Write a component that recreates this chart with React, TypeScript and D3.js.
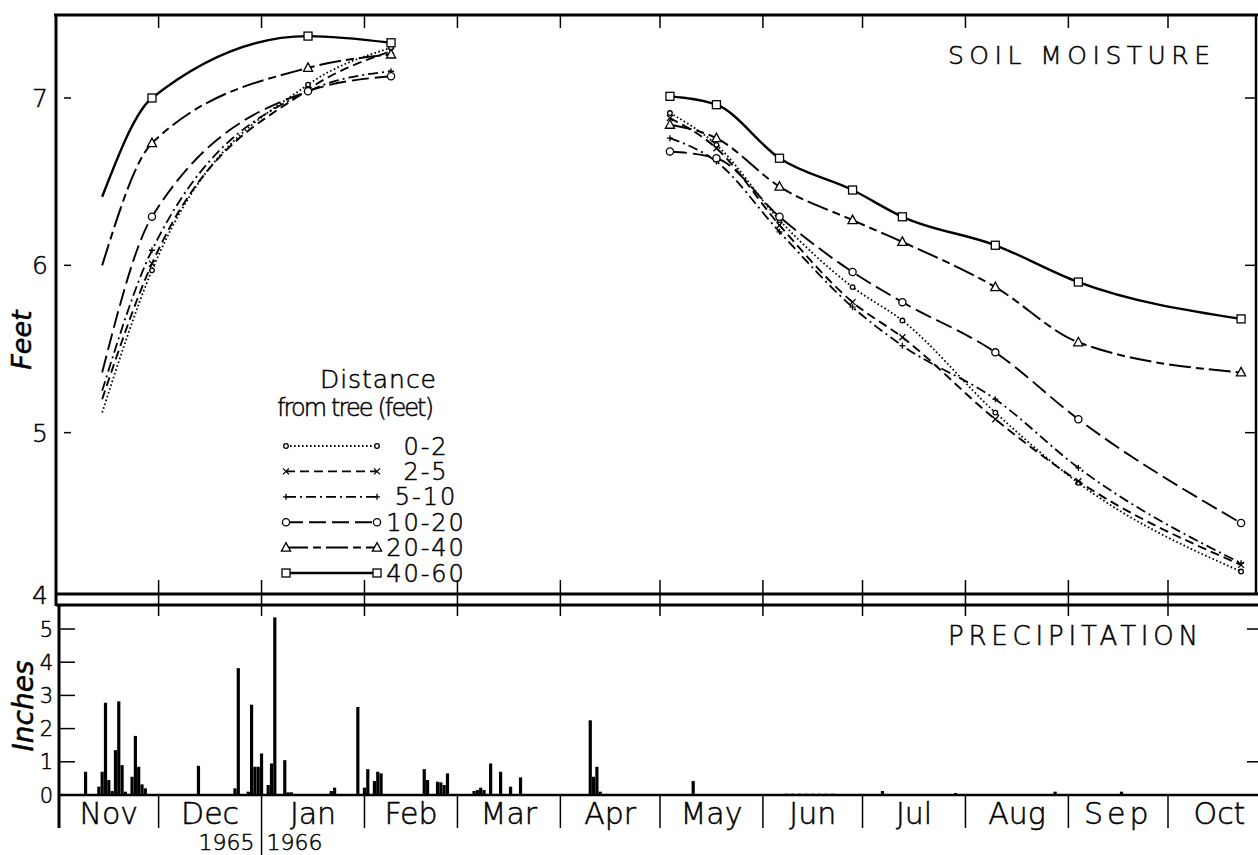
import React, { useRef, useEffect } from 'react'
import * as d3 from 'd3'

// soil moisture sampling dates (winter recharge and summer depletion)
const winterDates = ['1965-11-14', '1965-11-29', '1966-01-15', '1966-02-09']
const summerDates = ['1966-05-04', '1966-05-18', '1966-06-06', '1966-06-28', '1966-07-13', '1966-08-10', '1966-09-04', '1966-10-23']

const distanceLabels = ['0-2', '2-5', '5-10', '10-20', '20-40', '40-60']

// feet of soil moisture, one row per distance class
const winter02 = [5.12, 5.97, 7.08, 7.3]
const winter25 = [5.2, 6.01, 7.05, 7.28]
const winter510 = [5.25, 6.09, 7.04, 7.16]
const winter1020 = [5.36, 6.29, 7.04, 7.13]
const winter2040 = [6.0, 6.73, 7.18, 7.26]
const winter4060 = [6.41, 7.0, 7.37, 7.33]

const summer02 = [6.91, 6.72, 6.27, 5.87, 5.67, 5.12, 4.7, 4.17]
const summer25 = [6.88, 6.7, 6.24, 5.78, 5.57, 5.08, 4.71, 4.21]
const summer510 = [6.76, 6.62, 6.2, 5.75, 5.52, 5.2, 4.79, 4.22]
const summer1020 = [6.68, 6.64, 6.29, 5.96, 5.78, 5.48, 5.08, 4.46]
const summer2040 = [6.84, 6.76, 6.47, 6.27, 6.14, 5.87, 5.54, 5.36]
const summer4060 = [7.01, 6.96, 6.64, 6.45, 6.29, 6.12, 5.9, 5.68]

// daily precipitation (inches)
const precipDates = [
  '1965-11-09', '1965-11-13', '1965-11-14', '1965-11-15', '1965-11-16', '1965-11-17', '1965-11-18', '1965-11-19',
  '1965-11-20', '1965-11-21', '1965-11-23', '1965-11-24', '1965-11-25', '1965-11-26', '1965-11-27', '1965-12-13',
  '1965-12-24', '1965-12-25', '1965-12-28', '1965-12-29', '1965-12-30', '1965-12-31', '1966-01-01', '1966-01-03',
  '1966-01-04', '1966-01-05', '1966-01-08', '1966-01-09', '1966-01-10', '1966-01-22', '1966-01-23', '1966-01-30',
  '1966-02-01', '1966-02-02', '1966-02-04', '1966-02-05', '1966-02-06', '1966-02-19', '1966-02-20', '1966-02-23',
  '1966-02-24', '1966-02-25', '1966-02-26', '1966-03-06', '1966-03-07', '1966-03-08', '1966-03-09', '1966-03-11',
  '1966-03-14', '1966-03-17', '1966-03-20', '1966-04-10', '1966-04-11', '1966-04-12', '1966-04-13', '1966-05-11',
  '1966-06-08', '1966-06-10', '1966-06-12', '1966-06-14', '1966-06-16', '1966-06-18', '1966-06-20', '1966-06-22',
  '1966-07-07', '1966-07-29', '1966-08-28', '1966-09-17'
]
const precipInches = [
  0.7, 0.25, 0.7, 2.78, 0.45, 0.12, 1.35, 2.82,
  0.9, 0.1, 0.55, 1.78, 0.85, 0.32, 0.2, 0.88,
  0.2, 3.82, 0.1, 2.72, 0.85, 0.85, 1.25, 0.3,
  0.95, 5.35, 1.05, 0.08, 0.08, 0.12, 0.22, 2.65,
  0.22, 0.78, 0.42, 0.7, 0.65, 0.78, 0.45, 0.4,
  0.38, 0.3, 0.65, 0.12, 0.15, 0.22, 0.15, 0.95,
  0.7, 0.25, 0.53, 2.25, 0.55, 0.85, 0.1, 0.42,
  0.04, 0.04, 0.04, 0.04, 0.04, 0.04, 0.04, 0.04,
  0.12, 0.06, 0.1, 0.1
]

const monthNames = ['Nov', 'Dec', 'Jan', 'Feb', 'Mar', 'Apr', 'May', 'Jun', 'Jul', 'Aug', 'Sep', 'Oct']
const feetTicks = [4, 5, 6, 7]
const inchTicks = [0, 1, 2, 3, 4, 5]

const FONT = '"DejaVu Sans", "Liberation Sans", sans-serif'

const App = () => {
  const chartRef = useRef<HTMLDivElement>(null)

  useEffect(() => {
    const W = 1258
    const H = 855
    const parse = d3.timeParse('%Y-%m-%d') as (s: string) => Date

    if (chartRef.current) chartRef.current.innerHTML = ''

    const svg = d3.select(chartRef.current)
      .append('svg')
      .attr('width', W)
      .attr('height', H)
      .style('position', 'absolute')
      .style('left', 0)
      .style('top', 0)
      .style('background', '#fff')
      .style('font-family', FONT)

    const x = d3.scaleTime()
      .domain([parse('1965-11-01'), parse('1966-10-01')])
      .range([59, 1168])
    const y = d3.scaleLinear().domain([4, 7]).range([600, 98])
    const yIn = d3.scaleLinear().domain([0, 5]).range([795, 629])

    const months = d3.timeMonth.range(parse('1965-11-01'), parse('1966-11-01'))

    // ---------- frames ----------
    const frame = svg.append('g').attr('stroke', '#000').attr('fill', 'none')
    frame.append('line').attr('x1', 54).attr('x2', W).attr('y1', 15).attr('y2', 15).attr('stroke-width', 3)
    frame.append('line').attr('x1', 56).attr('x2', 56).attr('y1', 14).attr('y2', 606).attr('stroke-width', 3)
    frame.append('line').attr('x1', 1256).attr('x2', 1256).attr('y1', 14).attr('y2', 594).attr('stroke-width', 2.5)
    frame.append('line').attr('x1', 56).attr('x2', W).attr('y1', 594).attr('y2', 594).attr('stroke-width', 3)
    frame.append('line').attr('x1', 56).attr('x2', W).attr('y1', 605).attr('y2', 605).attr('stroke-width', 3)
    frame.append('line').attr('x1', 59).attr('x2', 59).attr('y1', 605).attr('y2', 828).attr('stroke-width', 3)
    frame.append('line').attr('x1', 59).attr('x2', W).attr('y1', yIn(0)).attr('y2', yIn(0)).attr('stroke-width', 2.5)

    // month ticks
    months.slice(1).forEach(m => {
      const mx = x(m)
      const isYear = m.getMonth() === 0
      frame.append('line').attr('x1', mx).attr('x2', mx).attr('y1', 15).attr('y2', 28).attr('stroke-width', 1.5)
      frame.append('line').attr('x1', mx).attr('x2', mx).attr('y1', 580).attr('y2', 616).attr('stroke-width', 1.5)
      frame.append('line').attr('x1', mx).attr('x2', mx).attr('y1', yIn(0)).attr('y2', isYear ? 855 : 828).attr('stroke-width', 1.5)
    })

    // feet ticks
    feetTicks.filter(t => t > 4).forEach(t => {
      frame.append('line').attr('x1', 64).attr('x2', 71).attr('y1', y(t)).attr('y2', y(t)).attr('stroke-width', 1.5)
      frame.append('line').attr('x1', 1245).attr('x2', 1256).attr('y1', y(t)).attr('y2', y(t)).attr('stroke-width', 1.5)
    })
    // inch ticks
    inchTicks.filter(t => t > 0).forEach(t => {
      frame.append('line').attr('x1', 59).attr('x2', 75).attr('y1', yIn(t)).attr('y2', yIn(t)).attr('stroke-width', 1.5)
      if (t === 1 || t === 5) {
        frame.append('line').attr('x1', 1247).attr('x2', W).attr('y1', yIn(t)).attr('y2', yIn(t)).attr('stroke-width', 1.5)
      }
    })

    // ---------- text ----------
    // light face with a thin outline, close to the lettering-guide strokes
    const txt = svg.append('g').attr('fill', '#000').attr('font-weight', 300)
      .attr('stroke', '#000').attr('stroke-width', 0.5)

    feetTicks.forEach(t => {
      txt.append('text').attr('x', 48).attr('y', y(t) - (t === 4 ? 5 : 0)).attr('dy', '0.36em')
        .attr('text-anchor', 'end').attr('font-size', 25).text(t)
    })
    inchTicks.forEach(t => {
      txt.append('text').attr('x', 53).attr('y', yIn(t)).attr('dy', '0.36em')
        .attr('text-anchor', 'end').attr('font-size', 21).text(t)
    })

    txt.append('text').attr('transform', 'translate(31,340) rotate(-90)')
      .attr('text-anchor', 'middle').attr('font-size', 27).attr('font-style', 'italic').text('Feet')
    txt.append('text').attr('transform', 'translate(33,706) rotate(-90)')
      .attr('text-anchor', 'middle').attr('font-size', 28).attr('font-style', 'italic').text('Inches')

    txt.append('text').attr('x', 948).attr('y', 64).attr('font-size', 25)
      .attr('textLength', 262).attr('lengthAdjust', 'spacing').text('SOIL MOISTURE')
    txt.append('text').attr('x', 948).attr('y', 645).attr('font-size', 26)
      .attr('textLength', 250).attr('lengthAdjust', 'spacing').text('PRECIPITATION')

    months.forEach((m, i) => {
      const next = d3.timeMonth.offset(m, 1)
      txt.append('text').attr('x', (x(m) + x(next)) / 2).attr('y', 824)
        .attr('text-anchor', 'middle').attr('font-size', 30)
        .attr('letter-spacing', monthNames[i] === 'Sep' ? 4 : 0)
        .text(monthNames[i])
    })
    const jan = x(parse('1966-01-01'))
    txt.append('text').attr('x', jan - 7).attr('y', 850).attr('text-anchor', 'end').attr('font-size', 22).text('1965')
    txt.append('text').attr('x', jan + 5).attr('y', 850).attr('text-anchor', 'start').attr('font-size', 22).text('1966')

    // ---------- precipitation bars ----------
    svg.append('g').selectAll('rect')
      .data(precipDates.map((d, i) => ({ date: parse(d), v: precipInches[i] })))
      .enter()
      .append('rect')
      .attr('x', d => x(d.date) - 1.6)
      .attr('width', 3.2)
      .attr('y', d => yIn(d.v))
      .attr('height', d => yIn(0) - yIn(d.v))
      .attr('fill', '#000')

    // ---------- soil moisture lines ----------
    const styles = [
      { dash: '1.6 2.4', width: 1.8, marker: 'dot' },
      { dash: '9 5', width: 1.9, marker: 'cross' },
      { dash: '10 4 2 4', width: 1.8, marker: 'plus' },
      { dash: '17 6', width: 1.9, marker: 'circle' },
      { dash: '22 5 8 5', width: 2, marker: 'triangle' },
      { dash: null, width: 2.4, marker: 'square' }
    ]
    const winterSeries = [winter02, winter25, winter510, winter1020, winter2040, winter4060]
    const summerSeries = [summer02, summer25, summer510, summer1020, summer2040, summer4060]

    svg.append('clipPath').attr('id', 'topClip')
      .append('rect').attr('x', 56).attr('y', 15).attr('width', 1200).attr('height', 579)

    const plot = svg.append('g').attr('clip-path', 'url(#topClip)')

    const line = d3.line<[Date, number]>()
      .x(d => x(d[0]))
      .y(d => y(d[1]))
      .curve(d3.curveMonotoneX)

    const drawMarker = (g: any, kind: string, mx: number, my: number) => {
      const s = g.append('g').attr('stroke', '#000').attr('stroke-width', 1.3).attr('fill', '#fff')
      if (kind === 'dot') s.append('circle').attr('cx', mx).attr('cy', my).attr('r', 2.3)
      else if (kind === 'circle') s.append('circle').attr('cx', mx).attr('cy', my).attr('r', 3.6)
      else if (kind === 'square') s.append('rect').attr('x', mx - 4).attr('y', my - 4).attr('width', 8).attr('height', 8)
      else if (kind === 'triangle') s.append('path').attr('d', `M${mx},${my - 5}L${mx + 4.6},${my + 3.5}L${mx - 4.6},${my + 3.5}Z`)
      else if (kind === 'cross') s.append('path').attr('fill', 'none').attr('d', `M${mx - 3},${my - 3}L${mx + 3},${my + 3}M${mx - 3},${my + 3}L${mx + 3},${my - 3}`)
      else if (kind === 'plus') s.append('path').attr('fill', 'none').attr('d', `M${mx - 3},${my}L${mx + 3},${my}M${mx},${my - 3}L${mx},${my + 3}`)
    }

    const winterD = winterDates.map(parse)
    const summerD = summerDates.map(parse)

    styles.forEach((st, i) => {
      const w = winterD.map((d, j) => [d, winterSeries[i][j]] as [Date, number])
      const s = summerD.map((d, j) => [d, summerSeries[i][j]] as [Date, number])
      ;[w, s].forEach(pts => {
        plot.append('path')
          .datum(pts)
          .attr('fill', 'none')
          .attr('stroke', '#000')
          .attr('stroke-width', st.width)
          .attr('stroke-dasharray', st.dash)
          .attr('d', line)
      })
    })
    styles.forEach((st, i) => {
      winterD.forEach((d, j) => { if (j > 0) drawMarker(plot, st.marker, x(d), y(winterSeries[i][j])) })
      summerD.forEach((d, j) => drawMarker(plot, st.marker, x(d), y(summerSeries[i][j])))
    })

    // ---------- legend ----------
    const lg = svg.append('g')
    const lgTxt = lg.append('g').attr('fill', '#000').attr('font-weight', 300)
      .attr('stroke', '#000').attr('stroke-width', 0.5)
    lgTxt.append('text').attr('x', 320).attr('y', 388).attr('font-size', 25)
      .attr('textLength', 116).attr('lengthAdjust', 'spacing').text('Distance')
    lgTxt.append('text').attr('x', 277).attr('y', 416).attr('font-size', 24)
      .attr('textLength', 157).attr('lengthAdjust', 'spacing').text('from tree (feet)')
    distanceLabels.forEach((lab, i) => {
      const ly = 446 + i * 25.4
      lg.append('line').attr('x1', 286).attr('x2', 377).attr('y1', ly).attr('y2', ly)
        .attr('stroke', '#000').attr('stroke-width', styles[i].width).attr('stroke-dasharray', styles[i].dash)
      drawMarker(lg, styles[i].marker, 286, ly)
      drawMarker(lg, styles[i].marker, 377, ly)
      lgTxt.append('text').attr('x', 426).attr('y', ly).attr('dy', '0.36em').attr('text-anchor', 'middle')
        .attr('font-size', 24).attr('letter-spacing', 2).text(lab)
    })
  }, [])

  return (
    <div ref={chartRef}></div>
  )
}

export default App
